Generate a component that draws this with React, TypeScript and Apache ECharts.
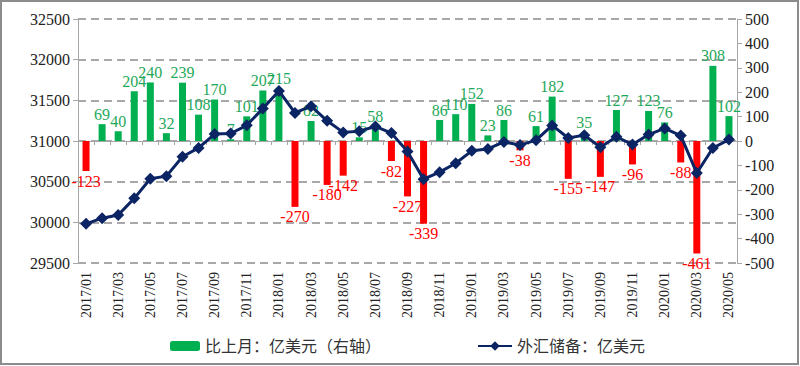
import React, { useEffect, useRef } from "react";
import * as echarts from "echarts";

const months: string[] = [
  "2017/01","2017/02","2017/03","2017/04","2017/05","2017/06","2017/07","2017/08","2017/09","2017/10","2017/11","2017/12",
  "2018/01","2018/02","2018/03","2018/04","2018/05","2018/06","2018/07","2018/08","2018/09","2018/10","2018/11","2018/12",
  "2019/01","2019/02","2019/03","2019/04","2019/05","2019/06","2019/07","2019/08","2019/09","2019/10","2019/11","2019/12",
  "2020/01","2020/02","2020/03","2020/04","2020/05",
];

const monthlyChange: number[] = [
  -123, 69, 40, 204, 240, 32, 239, 108, 170, 7, 101, 207,
  215, -270, 82, -180, -142, 15, 58, -82, -227, -339, 86, 110,
  152, 23, 86, -38, 61, 182, -155, 35, -147, 127, -96, 123,
  76, -88, -461, 308, 102,
];

const reserves: number[] = [
  29982, 30051, 30091, 30295, 30536, 30568, 30807, 30915, 31085, 31092, 31193, 31399,
  31615, 31345, 31428, 31248, 31106, 31121, 31179, 31097, 30870, 30531, 30617, 30727,
  30879, 30902, 30988, 30950, 31010, 31192, 31037, 31072, 30924, 31052, 30956, 31079,
  31155, 31067, 30606, 30914, 31017,
];

const barName = "比上月：亿美元（右轴）";
const lineName = "外汇储备：亿美元";

const GREEN = "#00B050";
const RED = "#FF0000";
const NAVY = "#0B2463";
const FONT = "'Liberation Serif', 'Noto Sans CJK SC', serif";

export default function App() {
  const ref = useRef<HTMLDivElement>(null);
  useEffect(() => {
    if (!ref.current) return;
    const chart = echarts.init(ref.current, undefined, { renderer: "svg" });
    const barData = monthlyChange.map((v) => ({
      value: v,
      itemStyle: { color: v >= 0 ? GREEN : RED },
      label: {
        show: true,
        position: v >= 0 ? "top" : "bottom",
        color: v >= 0 ? "#1FA85A" : RED,
        distance: 2,
      },
    }));
    chart.setOption({
      animation: false,
      textStyle: { fontFamily: FONT },
      graphic: [
        {
          type: "rect",
          shape: { x: 1, y: 1, width: 797, height: 363 },
          style: { fill: "none", stroke: "#8c8c8c", lineWidth: 2 },
          silent: true,
        },
      ],
      grid: { left: 78, right: 63, top: 19, bottom: 103, containLabel: false },
      legend: [
        {
          data: [barName],
          left: 165,
          top: 333,
          itemWidth: 30,
          itemHeight: 10,
          textStyle: { fontSize: 16, color: "#333", fontFamily: FONT },
        },
        {
          data: [lineName],
          left: 472,
          top: 333,
          itemWidth: 34,
          itemHeight: 12,
          textStyle: { fontSize: 16, color: "#333", fontFamily: FONT },
        },
      ],
      xAxis: {
        type: "category",
        data: months,
        boundaryGap: true,
        axisLine: { lineStyle: { color: "#a6a6a6", width: 1 } },
        axisTick: { show: true, interval: 0, length: 4, lineStyle: { color: "#a6a6a6" } },
        axisLabel: {
          interval: 1,
          rotate: 90,
          fontSize: 14,
          color: "#222",
          fontFamily: FONT,
          margin: 9,
        },
      },
      yAxis: [
        {
          type: "value",
          min: 29500,
          max: 32500,
          interval: 500,
          axisLine: { show: true, lineStyle: { color: "#a6a6a6" } },
          axisTick: { show: true, length: 5, lineStyle: { color: "#a6a6a6" } },
          axisLabel: {
            fontSize: 16,
            color: "#222",
            fontFamily: FONT,
            margin: 8,
            formatter: (v: number) => String(v),
          },
          splitLine: {
            show: true,
            lineStyle: { color: "#8c8c8c", type: [8, 5], width: 1.5 },
          },
        },
        {
          type: "value",
          min: -500,
          max: 500,
          interval: 100,
          position: "right",
          axisLine: { show: true, lineStyle: { color: "#a6a6a6" } },
          axisTick: { show: true, length: 5, lineStyle: { color: "#a6a6a6" } },
          axisLabel: {
            fontSize: 16,
            color: "#222",
            fontFamily: FONT,
            margin: 8,
            formatter: (v: number) => String(v),
          },
          splitLine: { show: false },
        },
      ],
      series: [
        {
          name: barName,
          type: "bar",
          yAxisIndex: 1,
          data: barData,
          barWidth: 7,
          itemStyle: { color: GREEN },
          label: { fontSize: 16, fontFamily: FONT },
          z: 2,
        },
        {
          name: lineName,
          type: "line",
          yAxisIndex: 0,
          data: reserves,
          symbol: "diamond",
          symbolSize: 12,
          showAllSymbol: true,
          lineStyle: { color: NAVY, width: 3 },
          itemStyle: { color: NAVY },
          z: 3,
        },
      ],
    });
    return () => chart.dispose();
  }, []);
  return (
    <div
      ref={ref}
      style={{ position: "fixed", left: 0, top: 0, width: 800, height: 366, background: "#fff" }}
    />
  );
}
